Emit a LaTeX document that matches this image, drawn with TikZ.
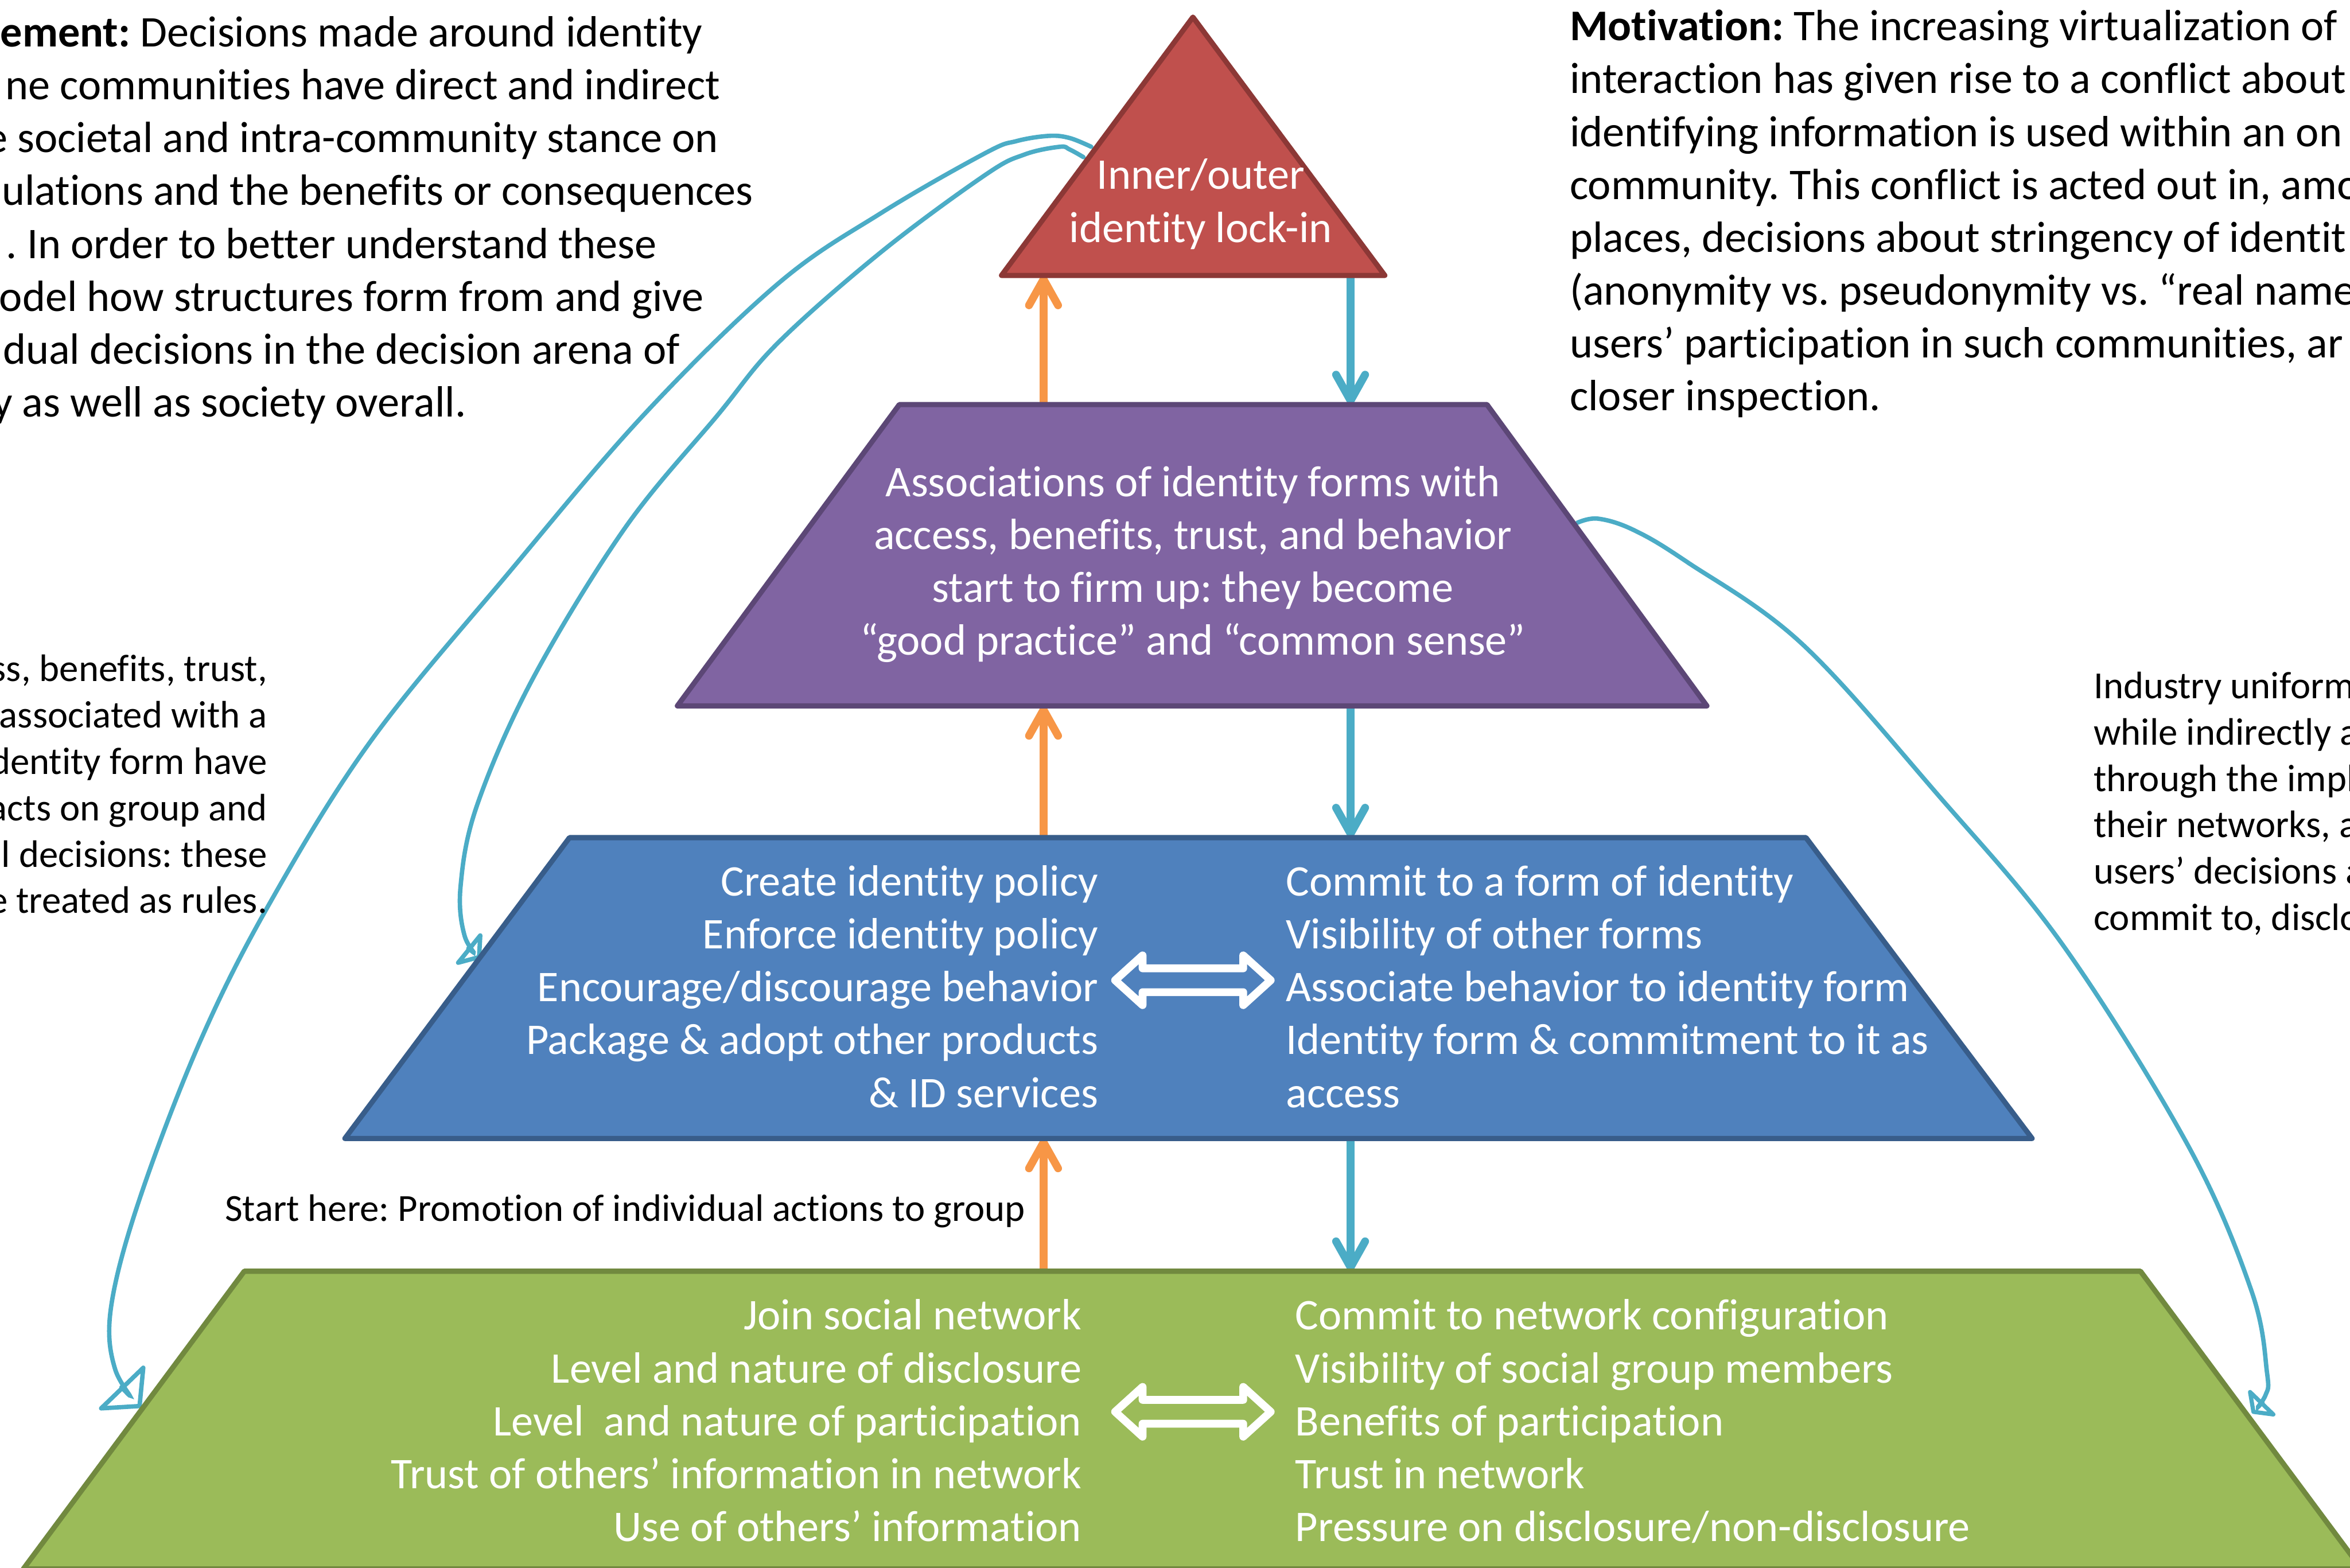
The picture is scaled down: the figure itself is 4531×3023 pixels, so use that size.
\documentclass[tikz,border=0pt]{standalone}
\usepackage{fontspec}
\setmainfont{Carlito}[Ligatures=NoCommon]
\frenchspacing
\usetikzlibrary{arrows.meta}
\pgfdeclarelayer{back}
\pgfdeclarelayer{bg}
\pgfsetlayers{back,bg,main}
\definecolor{redF}{HTML}{C0504D}\definecolor{redD}{HTML}{8C3836}
\definecolor{purF}{HTML}{8064A2}\definecolor{purD}{HTML}{5C4776}
\definecolor{bluF}{HTML}{4F81BD}\definecolor{bluD}{HTML}{385D8A}
\definecolor{grnF}{HTML}{9BBB59}\definecolor{grnD}{HTML}{71893F}
\definecolor{orgA}{HTML}{F79646}\definecolor{cyaA}{HTML}{4BACC6}
\begin{document}
\begin{tikzpicture}[x=0.01cm,y=-0.01cm,
  lvl/.style={line width=2.85pt, line join=round},
  big/.style={font=\fontsize{24}{29}\selectfont},
  small/.style={font=\fontsize{21}{25.45}\selectfont},
  intext/.style={big, text=white, inner sep=0pt},
  note/.style={inner sep=0pt, text=black},
  uparr/.style={draw=orgA, line width=4.3pt, line cap=round, -{Straight Barb[length=5mm,width=5.6mm,round]}},
  dnarr/.style={draw=cyaA, line width=4.3pt, line cap=round, -{Straight Barb[length=5mm,width=5.6mm,round]}},
  loopc/.style={draw=cyaA, line width=2.4pt, line cap=round},
  dbl/.style={draw=white, line width=4.3pt, line join=round}
]
% levels
\filldraw[lvl, fill=redF, draw=redD] (2300,33) coordinate (lockA) -- (2670,531) coordinate (lockBR) -- (1931,531) coordinate (lockBL) -- cycle;
\filldraw[lvl, fill=purF, draw=purD] (1734,780) coordinate (assocTL) -- (2867,780) coordinate (assocTR) -- (3291,1361) coordinate (assocBR) -- (1306,1361) coordinate (assocBL) -- cycle;
\filldraw[lvl, fill=bluF, draw=bluD] (1098,1615) coordinate (groupTL) -- (3482,1615) coordinate (groupTR) -- (3918,2195) coordinate (groupBR) -- (665,2195) coordinate (groupBL) -- cycle;
\filldraw[lvl, fill=grnF, draw=grnD] (471,2451) coordinate (indivTL) -- (4127,2451) coordinate (indivTR) -- (4553,3025) coordinate (indivBR) -- (45,3025) coordinate (indivBL) -- cycle;

% texts in levels (anchor base = baseline of the last line)
\node[intext, align=center, anchor=base] (lockT) at (2315,467) {Inner/outer\\identity lock-in};
\node[intext, align=center, anchor=base] (assocT) at (2300,1263) {Associations of identity forms with\\access, benefits, trust, and behavior\\start to firm up: they become\\“good practice” and “common sense”};
\node[intext, align=right, anchor=base east] (groupL) at (2118,2135) {Create identity policy\\Enforce identity policy\\Encourage/discourage behavior\\Package \& adopt other products\\\& ID services};
\node[intext, align=left, anchor=base west] (groupR) at (2479,2135) {Commit to a form of identity\\Visibility of other forms\\Associate behavior to identity form\\Identity form \& commitment to it as\\access};
\node[intext, align=right, anchor=base east] (indivL) at (2086,2972) {Join social network\\Level and nature of disclosure\\Level\ \ and nature of participation\\Trust of others’ information in network\\Use of others’ information};
\node[intext, align=left, anchor=base west] (indivR) at (2497,2972) {Commit to network configuration\\Visibility of social group members\\Benefits of participation\\Trust in network\\Pressure on disclosure/non-disclosure};

% double arrows
\draw[dbl, shift={(2300,1890)}] (-150,0) -- (-97,-48) -- (-97,-23) -- (97,-23) -- (97,-48) -- (150,0) -- (97,48) -- (97,23) -- (-97,23) -- (-97,48) -- cycle;
\draw[dbl, shift={(2300,2722)}] (-150,0) -- (-97,-48) -- (-97,-23) -- (97,-23) -- (97,-48) -- (150,0) -- (97,48) -- (97,23) -- (-97,23) -- (-97,48) -- cycle;

% notes
\node[note, big, anchor=base west] (ps1) at (0,90) {\textbf{ement:} Decisions made around identity};
\node[note, big, anchor=base west] (ps2) at (10,192) {ne communities have direct and indirect};
\node[note, big, anchor=base west] (ps3) at (-28,294) {e societal and intra-community stance on};
\node[note, big, anchor=base west] (ps4) at (3,396) {ulations and the benefits or consequences};
\node[note, big, anchor=base west] (ps5) at (11,498) {. In order to better understand these};
\node[note, big, anchor=base west] (ps6) at (-2,600) {odel how structures form from and give};
\node[note, big, anchor=base west] (ps7) at (5,702) {dual decisions in the decision arena of};
\node[note, big, anchor=base west] (ps8) at (-15,804) {y as well as society overall.};

\node[note, big, anchor=base west, align=left] (motiv) at (3026,792) {\textbf{Motivation:} The increasing virtualization of\\interaction has given rise to a conflict about\\identifying information is used within an on\\community. This conflict is acted out in, amo\\places, decisions about stringency of identit\\(anonymity vs. pseudonymity vs. “real name\\users’ participation in such communities, ar\\closer inspection.};

\node[note, small, anchor=base east, align=right] (lnote) at (516,1761) {ss, benefits, trust,\\associated with a\\dentity form have\\acts on group and\\l decisions: these\\e treated as rules.};
\node[note, small, anchor=base west, align=left] (rnote) at (4036,1794) {Industry uniform\\while indirectly a\\through the impl\\their networks, a\\users’ decisions a\\commit to, disclo};
\node[note, small, anchor=base west] (start) at (433,2355) {Start here: Promotion of individual actions to group};

% connectors
\begin{pgfonlayer}{back}
\fill[white] (0,0) rectangle (4531,3023);
\end{pgfonlayer}
\begin{pgfonlayer}{bg}
\coordinate (ox) at (2012,0);
\coordinate (bx) at (2604,0);
\draw[uparr] (assocTL -| ox) -- (lockBL -| ox);
\draw[dnarr] (lockBL -| bx) -- (assocTL -| bx);
\draw[uparr] (groupTL -| ox) -- (assocBL -| ox);
\draw[dnarr] (assocBL -| bx) -- (groupTL -| bx);
\draw[uparr] (indivTL -| ox) -- (groupBL -| ox);
\draw[dnarr] (groupBL -| bx) -- (indivTL -| bx);

\coordinate (olS) at (2104,283);
\coordinate (olE) at (272,2714);
\coordinate (ilS) at (2089,303);
\coordinate (ilE) at (927,1848);
\coordinate (rS) at (3041,1008);
\coordinate (rE) at (4342,2725);
\draw[loopc, -{Triangle[open,round,length=5.8mm,width=13.4mm]}] plot[smooth, tension=0.6] coordinates {(olS) (2062,266) (2022,262) (1960,272) (1900,295) (1700,410) (1500,547) (1241,800) (982,1103) (714,1430) (518,1745) (384,2012) (268,2315) (214,2521) (222,2640) (olE)};
\draw[loopc, -{Triangle[open,round,length=3.4mm,width=9.2mm]}] plot[smooth, tension=0.6] coordinates {(ilS) (2062,288) (2043,283) (1975,298) (1900,337) (1700,485) (1500,661) (1384,800) (1205,1018) (1027,1309) (920,1552) (888,1709) (896,1805) (ilE)};
\draw[loopc, -{Triangle[open,round,length=3.2mm,width=8.5mm]}] plot[smooth, tension=0.6] coordinates {(rS) (3081,1000) (3150,1022) (3252,1083) (3474,1241) (3736,1532) (3978,1823) (4220,2211) (4341,2489) (4371,2647) (4368,2690) (rE)};
\end{pgfonlayer}
\pgfresetboundingbox
\useasboundingbox (0,0) rectangle (4531,3023);
\end{tikzpicture}
\end{document}
